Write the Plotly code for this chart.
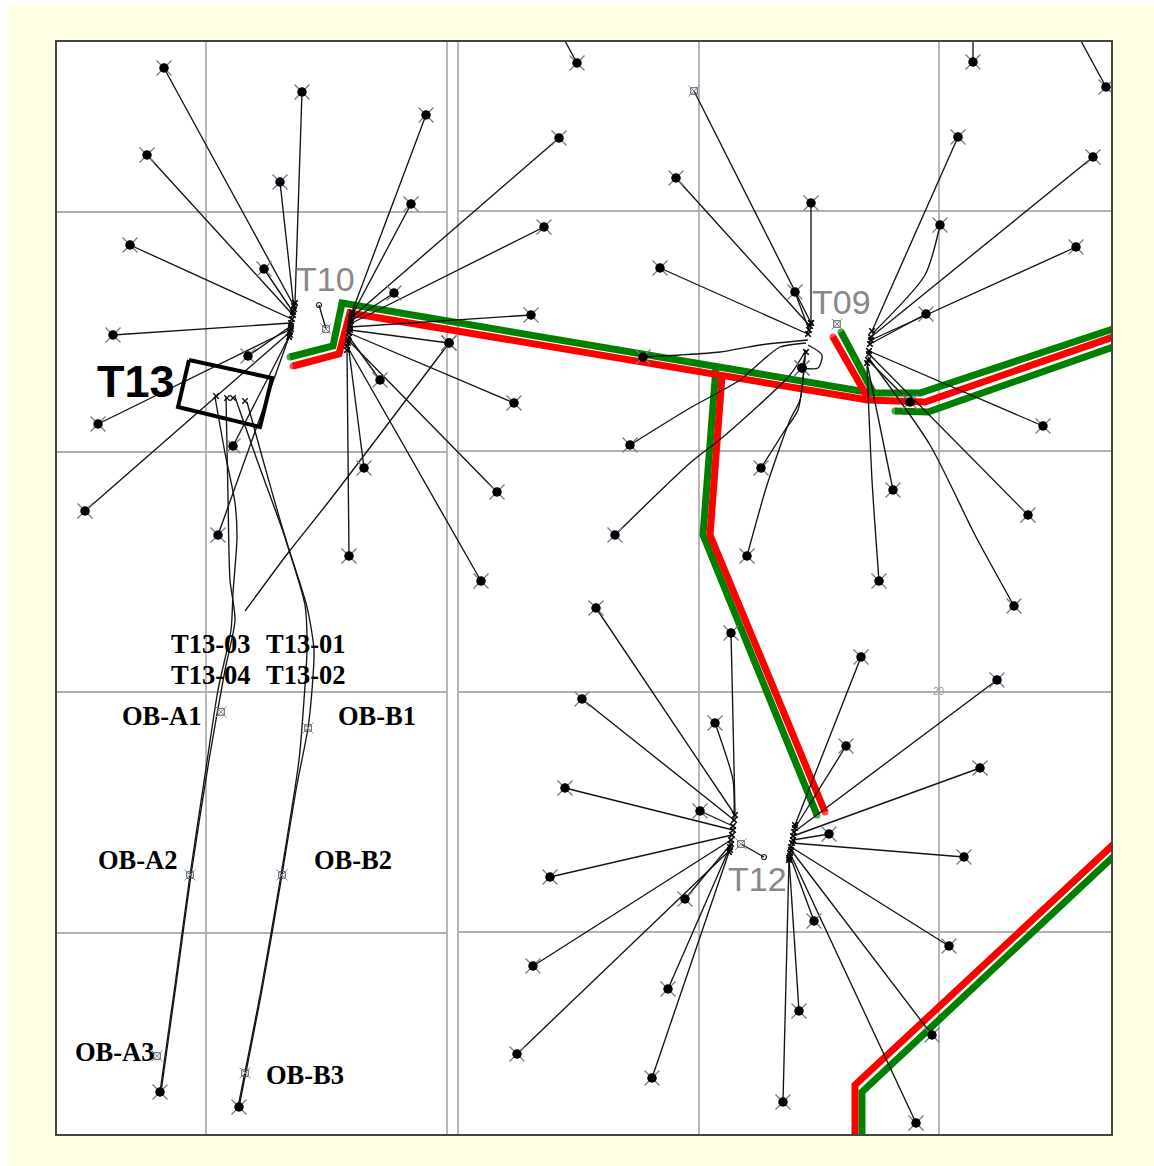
import plotly.graph_objects as go

# ---------- data (x, y on the map's own scale) ----------
GRID_V = [206, 447, 458, 699, 939]
GRID_H_WEST = [212, 452, 692, 933]
GRID_H_EAST = [211, 451, 692, 932]

# (head x, head y, toe x, toe y)
T10_WEST = [(295,303,302,92),(294,306,164,68),(294,309,280,182),(293,312,264,269),(293,315,147,155),
            (292,319,130,245),(291,323,113,335),(291,326,248,356),(291,329,98,424),(290,332,85,511),
            (290,335,233,446),(289,337,218,535)]
T10_EAST = [(352,312,426,115),(352,315,411,204),(351,318,559,138),(351,321,394,293),(350,324,544,227),
            (350,327,531,315),(350,330,449,343),(349,333,514,403),(349,337,380,380),(348,340,497,492),
            (348,343,364,468),(347,346,481,581),(347,350,349,556)]
T09_WEST = [(811,323,694,91),(810,326,676,178),(811,323,811,203),(809,330,795,292),(808,334,660,268),
            (806,352,802,368)]
T09_EAST = [(872,331,958,137),(871,337,1093,157),(871,340,1076,247),(870,344,926,314),(869,351,1043,426),
            (869,354,1028,515),(868,360,910,402),(867,363,893,490)]
T12_WEST = [(735,815,596,608),(734,820,582,699),(733,826,700,811),(733,830,565,788),(732,835,550,877),
            (731,840,533,966),(731,844,685,899),(730,847,668,989),(730,850,517,1054),(729,852,652,1078)]
T12_EAST = [(795,825,861,657),(795,828,846,746),(794,832,997,680),(793,836,980,768),(793,840,829,834),
            (792,843,964,857),(791,847,949,946),(791,850,932,1035),(790,853,916,1123),(790,856,814,921),
            (789,858,799,1011),(789,860,783,1102)]
STUBS = [(565,41,577,63),(973,41,973,62),(1081,41,1106,87)]
T12_SHORT = [(741,844,764,857)]
T10_SHORT = [(319,305,326,329)]

CURVED = [
    [(449,343),(330,500),(288,553),(245,611)],
    [(808,340),(760,345),(720,352),(680,355),(643,357)],
    [(806,343),(780,347),(763,360),(740,380),(690,408),(630,445)],
    [(806,350),(790,375),(723,437),(690,463),(615,535)],
    [(808,345),(822,355),(818,368),(802,368)],
    [(805,356),(798,410),(785,430),(761,468)],
    [(805,358),(800,400),(790,420),(767,485),(747,556)],
    [(872,334),(925,275),(940,225)],
    [(868,357),(930,445),(975,535),(1014,606)],
    [(867,366),(872,480),(879,581)],
    [(735,813),(733,720),(731,633)],
    [(734,818),(733,780),(715,723)],
    [(215,397),(225,453),(235,503),(237,537),(233,593),(231,630),(218,690),(205,775),(190,875),(175,985),(160,1092)],
    [(226,397),(228,497),(230,580),(235,620),(225,670),(209,760),(191,875),(176,985),(161,1092)],
    [(235,397),(257,460),(280,523),(290,553),(307,607),(314,650),(312,690),(308,728),(296,790),(282,875),(262,990),(239,1107)],
    [(247,402),(263,460),(280,520),(290,553),(305,605),(307,650),(304,700),(299,760),(281,875),(261,990),(238,1107)],
]

RED_MAIN = [(293,366),(339,354),(350,313),(868,400),(925,402),(1116,336)]
GREEN_MAIN = [(290,357),(333,346),(342,303),(872,393),(920,393),(1116,328)]
RED_STUB = [(833,337),(868,398)]
GREEN_STUB = [(841,332),(873,392)]
GREEN_LOW = [(895,411),(928,412),(1116,346)]
RED_BRANCH = [(722,376),(710,535),(825,812)]
GREEN_BRANCH = [(716,367),(703,535),(817,815)]
RED_SE = [(1116,842),(855,1085),(855,1140)]
GREEN_SE = [(1116,854),(862,1092),(862,1140)]

TOES_EXTRA = [(643,357),(630,445),(615,535),(761,468),(747,556),(802,368),(940,225),(1014,606),
              (879,581),(731,633),(715,723),(449,343),(160,1092),(239,1107),(973,62),(1106,87),(577,63)]
T13_BOX = [(189,360),(272,378),(260,427),(178,407),(189,360)]
T13_HEADS = [(216,396),(227,398),(233,398),(245,401)]
OBS_POINTS = [(221,712),(308,728),(190,875),(282,875),(157,1056),(245,1073),(326,329),(694,91),(837,324),(741,844)]
SMALL_ENDS = [(319,305),(764,857)]
# hollow toes: not drawn with a black dot
HOLLOW = {(694,91)}

LABELS_SERIF_BOLD = [("T13-03",211,644),("T13-01",306,644),("T13-04",211,675),("T13-02",306,675),
                     ("OB-A1",162,716),("OB-B1",377,716),("OB-A2",138,860),("OB-B2",353,860),
                     ("OB-A3",115,1052),("OB-B3",305,1075)]
LABELS_FRAME = [("R3W4",584,20),("R3W4",584,1154),("T64",32,588),("T64",1137,588)]
LABELS_PAD = [("T10",325,279),("T09",841,302),("T12",757,879)]

# ---------- figure ----------
X0, X1, Y0, Y1 = 57, 1111, 42, 1134
W, H = 1154, 1166
LINE = "#141414"
fig = go.Figure()


def path(points, color, width, shape="linear", caps=False):
    xs = [p[0] for p in points]
    ys = [p[1] for p in points]
    mode = "lines"
    marker = None
    if caps:
        mode = "lines+markers"
        marker = dict(color=color, size=[width if i in (0, len(xs) - 1) else 0 for i in range(len(xs))],
                      line=dict(width=0))
    fig.add_trace(go.Scatter(x=xs, y=ys, mode=mode, marker=marker, hoverinfo="skip",
                             line=dict(color=color, width=width, shape=shape, smoothing=0.7 if shape == "spline" else None)))


for x in GRID_V:
    path([(x, Y0), (x, Y1)], "#b0b0b0", 1.8)
for y in GRID_H_WEST:
    path([(X0, y), (447, y)], "#b0b0b0", 1.8)
for y in GRID_H_EAST:
    path([(458, y), (X1, y)], "#b0b0b0", 1.8)

for p in (GREEN_MAIN, GREEN_STUB, GREEN_LOW, GREEN_BRANCH, GREEN_SE):
    path(p, "#008000", 7, caps=True)
for p in (RED_MAIN, RED_STUB, RED_BRANCH, RED_SE):
    path(p, "#ff0000", 7, caps=True)

fans = [T10_WEST, T10_EAST, T09_WEST, T09_EAST, T12_WEST, T12_EAST]
sx, sy = [], []
for fan in fans + [STUBS, T12_SHORT, T10_SHORT]:
    for hx, hy, tx, ty in fan:
        sx += [hx, tx, None]
        sy += [hy, ty, None]
fig.add_trace(go.Scatter(x=sx, y=sy, mode="lines", line=dict(color=LINE, width=1.35), hoverinfo="skip"))
for c in CURVED:
    path(c, LINE, 1.35, shape="spline")
path(T13_BOX, "#000000", 4)

toes = [(f[2], f[3]) for fan in fans for f in fan] + TOES_EXTRA
toes = [t for t in toes if t not in HOLLOW and t not in T13_HEADS]
toe_x = [t[0] for t in toes]
toe_y = [t[1] for t in toes]
fig.add_trace(go.Scatter(x=toe_x, y=toe_y, mode="markers", hoverinfo="skip",
                         marker=dict(symbol="x-thin", size=15, line=dict(color="#6e7f96", width=1.4))))
fig.add_trace(go.Scatter(x=toe_x, y=toe_y, mode="markers", hoverinfo="skip",
                         marker=dict(symbol="circle", size=9.5, color="#000000", line=dict(width=0))))

heads = [(f[0], f[1]) for fan in fans for f in fan]
fig.add_trace(go.Scatter(x=[h[0] for h in heads], y=[h[1] for h in heads], mode="markers", hoverinfo="skip",
                         marker=dict(symbol="x-thin", size=5.5, line=dict(color="#000000", width=1.7))))
fig.add_trace(go.Scatter(x=[h[0] for h in T13_HEADS], y=[h[1] for h in T13_HEADS], mode="markers", hoverinfo="skip",
                         marker=dict(symbol="x-thin", size=5.5, line=dict(color="#111111", width=1.4))))
ox = [p[0] for p in OBS_POINTS]
oy = [p[1] for p in OBS_POINTS]
fig.add_trace(go.Scatter(x=ox, y=oy, mode="markers", hoverinfo="skip",
                         marker=dict(symbol="square-open", size=6.5, color="#555555", line=dict(width=1))))
fig.add_trace(go.Scatter(x=ox, y=oy, mode="markers", hoverinfo="skip",
                         marker=dict(symbol="x-thin", size=11, line=dict(color="#7a8ea6", width=1))))
fig.add_trace(go.Scatter(x=[p[0] for p in SMALL_ENDS], y=[p[1] for p in SMALL_ENDS], mode="markers", hoverinfo="skip",
                         marker=dict(symbol="circle-open", size=5, color="#222222", line=dict(width=1.2))))


def label(text, x, y, family, size, color, bold=False):
    fig.add_annotation(x=x, y=y, text=f"<b>{text}</b>" if bold else text, showarrow=False,
                       xanchor="center", yanchor="middle", font=dict(family=family, size=size, color=color))


for t, x, y in LABELS_FRAME:
    label(t, x, y, "Liberation Serif", 16.5, "#222222")
for t, x, y in LABELS_SERIF_BOLD:
    label(t, x, y, "Liberation Serif", 26.5, "#000000", bold=True)
for t, x, y in LABELS_PAD:
    label(t, x, y, "Liberation Sans", 34, "#888888")
label("T13", 136, 381, "Liberation Sans", 45, "#000000", bold=True)
label("20", 939, 691, "Liberation Sans", 10, "#999999")

axis = dict(showgrid=False, zeroline=False, showticklabels=False, ticks="", showline=True, mirror=True,
            linecolor="#444444", linewidth=1.5)
fw = X1 - X0
fh = Y1 - Y0
strip = dict(type="rect", xref="paper", yref="paper", fillcolor="#ffffff", line=dict(width=0), layer="below")
fig.update_layout(
    width=W, height=H, showlegend=False, autosize=False,
    margin=dict(l=X0, r=W - X1, t=Y0, b=H - Y1, pad=0),
    paper_bgcolor="#ffffe3", plot_bgcolor="#ffffff",
    xaxis=dict(axis, range=[X0, X1], fixedrange=True),
    yaxis=dict(axis, range=[Y1, Y0], fixedrange=True),
    shapes=[
        dict(strip, x0=-X0 / fw, x1=(7 - X0) / fw, y0=-(H - Y1) / fh, y1=1 + Y0 / fh),
        dict(strip, x0=-X0 / fw, x1=1 + (W - X1) / fw, y0=1 + (Y0 - 5) / fh, y1=1 + Y0 / fh),
    ],
)
fig.write_html("out.html", config=dict(displayModeBar=False),
               post_script="document.body.style.margin='0';document.body.style.overflow='hidden';")
